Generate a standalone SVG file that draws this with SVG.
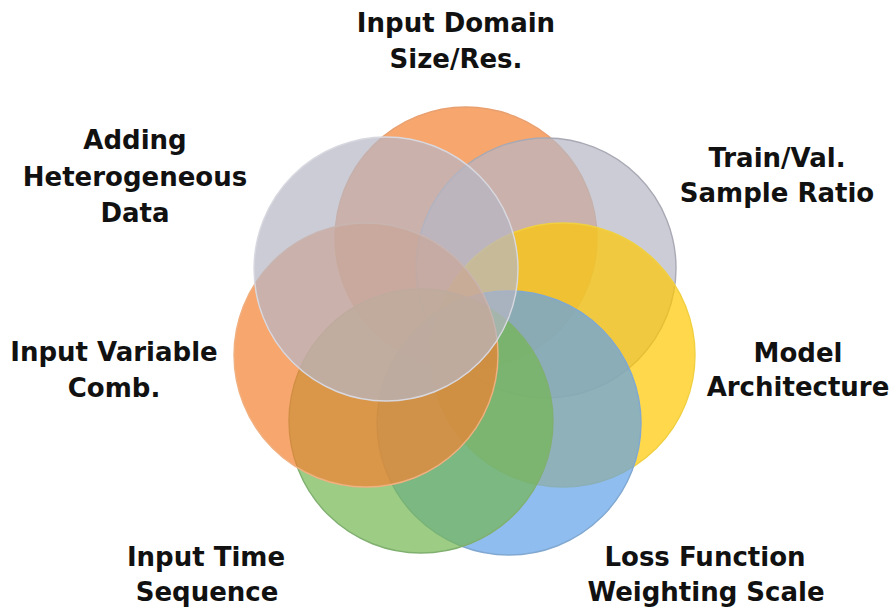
<svg xmlns="http://www.w3.org/2000/svg" width="893" height="611" viewBox="0 0 893 611">
<style>
.c{stroke-width:1.4;fill-opacity:0.7}
.lbl{font-family:"DejaVu Sans",sans-serif;font-weight:bold;font-size:26px;fill:#111;text-anchor:middle}
</style>
<rect width="893" height="611" fill="#ffffff"/>
<g id="circles">
<g id="n-domain"><circle class="c" cx="466" cy="238" r="131" fill="#F48030" stroke="#E8A070"/></g>
<g id="n-ratio"><circle class="c" cx="546" cy="268" r="130" fill="#B6B7C4" stroke="#A8A9B4"/></g>
<g id="n-model"><circle class="c" cx="563" cy="355" r="132" fill="#FFC700" stroke="#F0D040"/></g>
<g id="n-loss"><circle class="c" cx="509" cy="423" r="132" fill="#5FA1EA" stroke="#80A8D0"/></g>
<g id="n-time"><circle class="c" cx="421" cy="421" r="132" fill="#73B651" stroke="#80B070"/></g>
<g id="n-var"><circle class="c" cx="366" cy="355" r="132" fill="#F48030" stroke="#F0B080"/></g>
<g id="n-hetero"><circle class="c" cx="386" cy="269" r="132" fill="#B6B7C4" stroke="#D8D8E0"/></g>
</g>
<g id="labels">
<text class="lbl" x="456" y="32">Input Domain</text>
<text class="lbl" x="456" y="68">Size/Res.</text>
<text class="lbl" x="135" y="149">Adding</text>
<text class="lbl" x="135" y="186">Heterogeneous</text>
<text class="lbl" x="135" y="222">Data</text>
<text class="lbl" x="777" y="167">Train/Val.</text>
<text class="lbl" x="777" y="202">Sample Ratio</text>
<text class="lbl" x="798" y="362">Model</text>
<text class="lbl" x="798" y="396">Architecture</text>
<text class="lbl" x="114" y="361">Input Variable</text>
<text class="lbl" x="114" y="397">Comb.</text>
<text class="lbl" x="206" y="566">Input Time</text>
<text class="lbl" x="207" y="601">Sequence</text>
<text class="lbl" x="705" y="566">Loss Function</text>
<text class="lbl" x="706" y="601">Weighting Scale</text>
</g>
</svg>
